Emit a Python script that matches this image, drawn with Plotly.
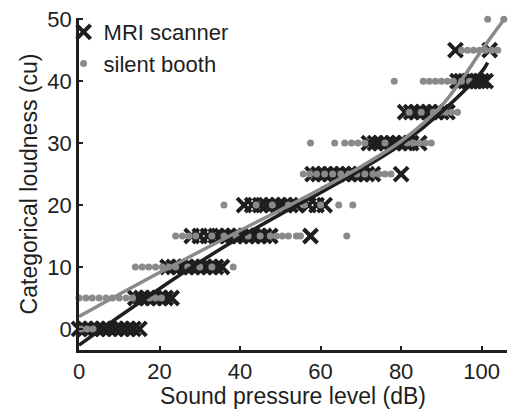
import plotly.graph_objects as go

# ---- data ----
levels = [0, 5, 10, 15, 20, 25, 30, 35, 40, 45, 50]

mri_x_by_level = [
    [0, 1.5, 3, 4.5, 6, 7.5, 9, 10.5, 12, 13.5, 15],                      # 0
    [14, 15.5, 17, 18.5, 20, 21.5, 23],                                    # 5
    [22, 23.5, 25, 26.5, 28, 29.5, 31, 32.5, 34, 35.5],                    # 10
    [28, 30, 32, 34, 35.5, 37, 38.5, 40, 41.5, 43, 44.5, 46, 47.5, 57.5],  # 15
    [41, 43, 45, 46.5, 48, 49.5, 51, 52.5, 54, 57, 59, 61],                # 20
    [58, 59.5, 61, 62.5, 64, 65.5, 67, 68.5, 70, 71.5, 73, 80],            # 25
    [72, 73.5, 75, 76.5, 78, 79.5, 81, 82.5, 84.5],                        # 30
    [81, 82.5, 84, 85.5, 87, 88.5, 90, 91.5],                              # 35
    [94, 95, 96, 97, 98, 99, 100, 101],                                    # 40
    [93.5, 102],                                                           # 45
    [],                                                                    # 50
]

booth_x_by_level = [
    [0.5, 2, 3.5],                                                          # 0
    [0, 1.7, 3.3, 5, 6.7, 8.3, 10, 11.7, 13.3, 17.5, 19, 20.5],             # 5
    [14, 15.7, 17.3, 19, 20.7, 22.3, 24, 27, 30, 33, 38.3],                 # 10
    [24, 25.7, 27.3, 29, 33, 36, 39, 42, 45, 47.5, 49, 50.5, 52, 54, 55, 66.5],  # 15
    [36, 44, 48, 52, 56, 60, 64.5, 68],                                     # 20
    [55.7, 57.3, 59, 61, 63, 65, 67, 69, 71, 73, 74.5, 76, 77.5],           # 25
    [57.5, 63.5, 66, 67.7, 69.3, 71, 76, 81.5, 83, 84.5, 86, 87.5],         # 30
    [82, 85, 88, 89.5, 91, 92.5, 94],                                       # 35
    [78.3, 85.5, 87, 88.5, 90, 91.5, 93, 95, 97],                           # 40
    [95, 96.5, 98, 99.5, 101, 102.5, 104],                                  # 45
    [101.5, 105.5],                                                         # 50
]

# fitted curves
mri_fit_x = [0, 10, 20, 30, 40, 50, 60, 70, 80, 90, 100, 101.5]
mri_fit_y = [-2.6, 2.0, 6.5, 10.8, 14.8, 18.5, 22.0, 25.7, 29.8, 35.0, 41.5, 43.0]
booth_fit_x = [0, 10, 20, 30, 40, 50, 60, 70, 80, 90, 95, 100, 105.6]
booth_fit_y = [2.0, 5.6, 9.1, 12.5, 15.9, 19.2, 22.6, 26.2, 30.3, 36.0, 40.2, 45.0, 50.0]

x_ticks = [0, 20, 40, 60, 80, 100]
y_ticks = [0, 10, 20, 30, 40, 50]

# flatten
mri_x, mri_y = [], []
for lv, xs in zip(levels, mri_x_by_level):
    mri_x += xs
    mri_y += [lv] * len(xs)
booth_x, booth_y = [], []
for lv, xs in zip(levels, booth_x_by_level):
    booth_x += xs
    booth_y += [lv] * len(xs)

DARK = "#1e1e1e"
GRAY = "#8a8a8a"
FONT = "Liberation Sans, Arial, sans-serif"

fig = go.Figure()
fig.add_trace(go.Scatter(
    x=mri_x, y=mri_y, mode="markers", name="MRI scanner",
    marker=dict(symbol="x-thin", size=14, line=dict(color=DARK, width=4), color=DARK),
    cliponaxis=False,
))
fig.add_trace(go.Scatter(
    x=booth_x, y=booth_y, mode="markers", name="silent booth",
    marker=dict(symbol="circle", size=7, color=GRAY),
    cliponaxis=False,
))
fig.add_trace(go.Scatter(
    x=mri_fit_x, y=mri_fit_y, mode="lines", showlegend=False,
    line=dict(color=DARK, width=3.5, shape="spline"),
))
fig.add_trace(go.Scatter(
    x=booth_fit_x, y=booth_fit_y, mode="lines", showlegend=False,
    line=dict(color=GRAY, width=3.5, shape="spline"),
))

axis_common = dict(
    showgrid=False, zeroline=False, showline=True, linecolor=DARK, linewidth=2.5,
    ticks="inside", ticklen=4, tickwidth=2, tickcolor=DARK, automargin=False,
    tickfont=dict(size=22, color=DARK, family=FONT),
    title_font=dict(size=23, color=DARK, family=FONT),
)
fig.update_xaxes(range=[0, 106.3], tickvals=x_ticks, title_text="Sound pressure level (dB)",
                 title_standoff=2, **axis_common)
fig.update_yaxes(range=[-3.4, 50.2], tickvals=y_ticks, title_text="Categorical loudness (cu)",
                 title_standoff=4, **axis_common)

fig.update_layout(
    template="none",
    width=513, height=409,
    margin=dict(l=79, r=6, t=18, b=59, autoexpand=False),
    paper_bgcolor="white", plot_bgcolor="white",
    font=dict(family=FONT, color=DARK),
    legend=dict(x=-0.036, y=1.021, xanchor="left", yanchor="top",
                bgcolor="rgba(0,0,0,0)", font=dict(size=22, color=DARK, family=FONT),
                tracegroupgap=0, itemwidth=30),
    showlegend=True,
)

fig.write_html(
    "out.html",
    config={"displayModeBar": False},
    post_script="document.body.style.margin='0';document.body.style.padding='0';"
                "document.body.style.overflow='hidden';",
)
